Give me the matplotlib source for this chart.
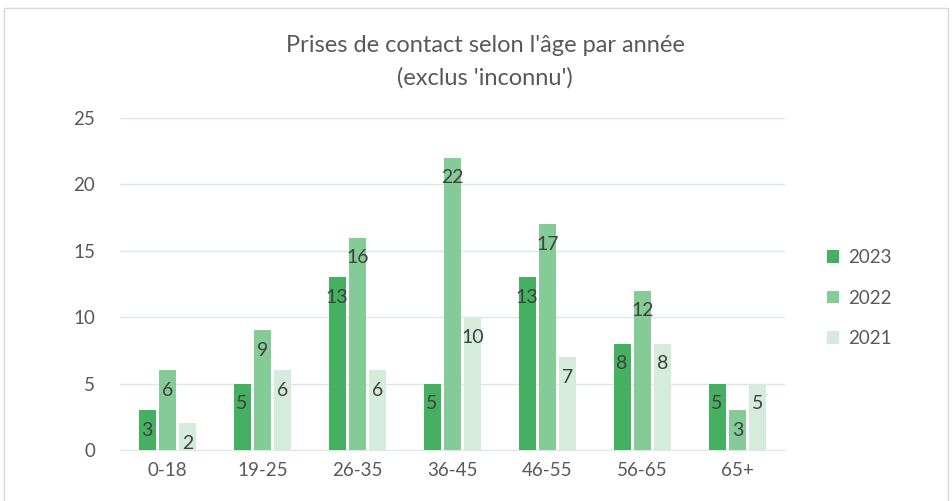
import numpy as np
import matplotlib.pyplot as plt
from matplotlib.patches import Rectangle

plt.rcParams['font.family'] = ['Lato', 'DejaVu Sans']

categories = ['0-18', '19-25', '26-35', '36-45', '46-55', '56-65', '65+']
years = ['2023', '2022', '2021']
vals_2023 = [3, 5, 13, 5, 13, 8, 5]
vals_2022 = [6, 9, 16, 22, 17, 12, 3]
vals_2021 = [2, 6, 6, 10, 7, 8, 5]
colors = ['#45B062', '#85CB97', '#D5EBDB']

txt = '#595959'
grid = '#D9EBDD'

fig = plt.figure(figsize=(9.52, 5.01), dpi=100)
# light chart border
fig.patches.append(Rectangle((4 / 952, -0.01), 944 / 952, 1 - 8 / 501 + 0.01,
                             transform=fig.transFigure, fill=False,
                             edgecolor='#D9D9D9', linewidth=1))

ax = fig.add_axes([120 / 952, 1 - 450 / 501, 665 / 952, (450 - 118) / 501])

x = np.arange(len(categories))
w = 0.18
step = 0.215
series = [vals_2023, vals_2022, vals_2021]
for k, (vals, yr) in enumerate(zip(series, years)):
    bars = ax.bar(x + (k - 1) * step, vals, w, color=colors[k], label=yr, zorder=3)
    for b, v in zip(bars, vals):
        ax.annotate(str(v), (b.get_x() + b.get_width() / 2, v),
                    xytext=(0, -20), textcoords='offset pixels',
                    ha='center', va='center', fontsize=14, color='#404040', zorder=4)

ax.set_xlim(-0.5, len(categories) - 0.5)
ax.set_ylim(0, 25)
ax.set_yticks(range(0, 26, 5))
ax.set_xticks(x)
ax.set_xticklabels(categories)
ax.yaxis.grid(True, color=grid, linewidth=1, zorder=0)
for s in ['top', 'right', 'left']:
    ax.spines[s].set_visible(False)
ax.spines['bottom'].set_color(grid)
ax.tick_params(length=0, labelsize=13.5, colors=txt, pad=9)
ax.tick_params(axis='y', pad=18)

fig.text(485 / 952, 1 - 45 / 501, "Prises de contact selon l'âge par année",
         ha='center', va='center', fontsize=17, color=txt)
fig.text(485 / 952, 1 - 78 / 501, "(exclus 'inconnu')",
         ha='center', va='center', fontsize=17, color=txt)

fig.legend(loc='center left', bbox_to_anchor=(810 / 952, 1 - 298 / 501),
           frameon=False, fontsize=13.5, labelcolor=txt,
           handlelength=0.65, handleheight=0.65, handletextpad=0.5, labelspacing=1.25)

fig.savefig('out.png', dpi=100)
